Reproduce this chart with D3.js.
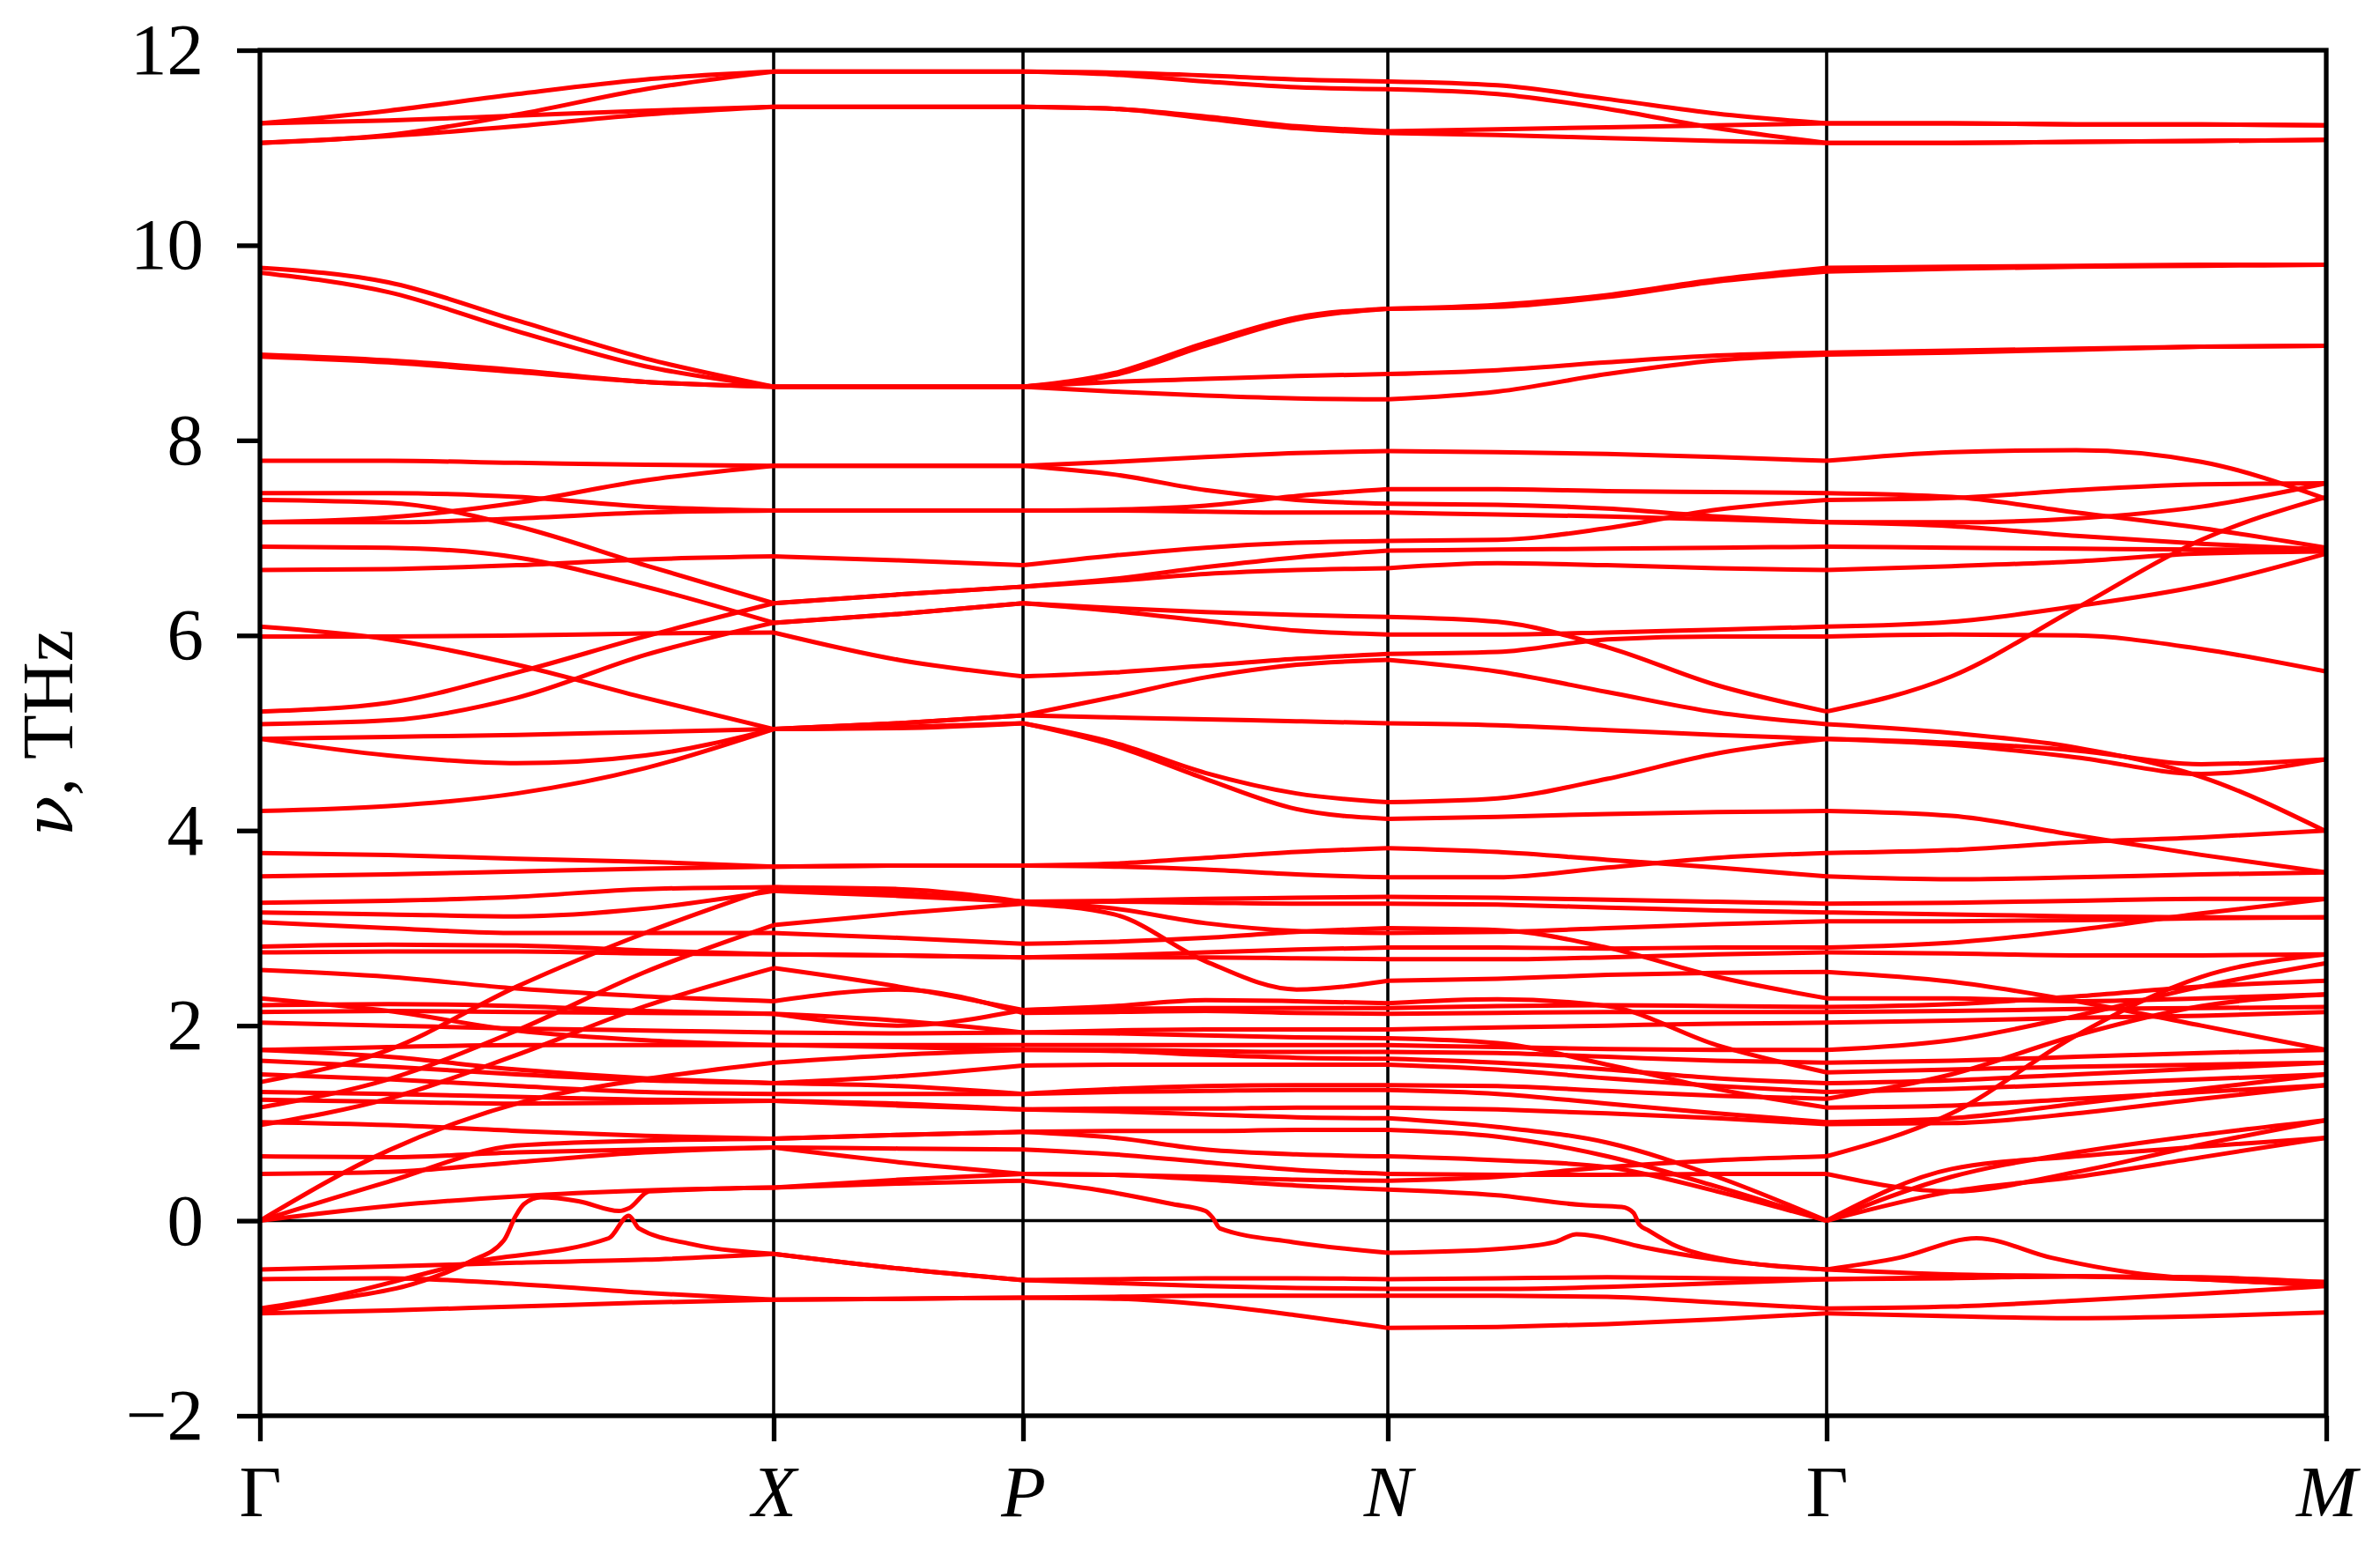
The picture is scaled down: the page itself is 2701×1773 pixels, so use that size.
<!DOCTYPE html>
<html>
<head>
<meta charset="utf-8">
<script src="https://d3js.org/d3.v7.min.js"></script>
<style>
  body { margin: 0; background: #fff; }
  text { font-family: "Liberation Serif", "DejaVu Serif", serif; fill: #000; }
  .band { fill: none; stroke: #ff0000; stroke-width: 5; stroke-linejoin: round; }
  .sym { stroke: #000; stroke-width: 3.6; }
  .axis line { stroke: #000; stroke-width: 5.3; }
  .frame { fill: none; stroke: #000; stroke-width: 5.3; }
</style>
</head>
<body>
<script>
// high-symmetry path: positions along the path and labels
const kTicks = [0, 0.583, 0.866, 1.280, 1.778, 2.345];
const kLabels = ["Γ", "X", "P", "N", "Γ", "M"];
const yTicks = [-2, 0, 2, 4, 6, 8, 10, 12];

// sample points along the path, as segment index + fraction
// Γ-X: 5 | X-P: 2 | P-N: 4 | N-Γ: 4 | Γ-M: 4
const gridS = [0, .25, .5, .75, 1, 1.5, 2, 2.25, 2.5, 2.75, 3, 3.25, 3.5, 3.75, 4, 4.25, 4.5, 4.75, 5];

// 11-12 THz
const topBands = [
  [11.25, 11.38, 11.55, 11.7, 11.78, 11.78, 11.78, 11.77, 11.74, 11.7, 11.68, 11.64, 11.5, 11.35, 11.25, 11.25, 11.24, 11.24, 11.23],
  [11.05, 11.13, 11.34, 11.6, 11.78, 11.78, 11.78, 11.75, 11.68, 11.62, 11.6, 11.55, 11.4, 11.2, 11.05, 11.05, 11.06, 11.07, 11.08],
  [11.25, 11.28, 11.33, 11.38, 11.42, 11.42, 11.42, 11.4, 11.32, 11.22, 11.17, 11.19, 11.21, 11.23, 11.25, 11.25, 11.24, 11.24, 11.23],
  [11.05, 11.12, 11.22, 11.34, 11.42, 11.42, 11.42, 11.4, 11.3, 11.2, 11.15, 11.13, 11.1, 11.07, 11.05, 11.05, 11.06, 11.07, 11.08]
];

// 8.4-9.8 THz
const midBands = [
  [9.77, 9.62, 9.23, 8.84, 8.55, 8.55, 8.55, 8.69, 9.0, 9.26, 9.35, 9.39, 9.49, 9.65, 9.77, 9.78, 9.79, 9.8, 9.8],
  [9.72, 9.52, 9.12, 8.76, 8.55, 8.55, 8.55, 8.67, 8.97, 9.24, 9.35, 9.37, 9.47, 9.63, 9.73, 9.76, 9.78, 9.79, 9.8],
  [8.88, 8.82, 8.72, 8.6, 8.55, 8.55, 8.55, 8.6, 8.63, 8.66, 8.68, 8.72, 8.8, 8.87, 8.9, 8.92, 8.94, 8.96, 8.97],
  [8.86, 8.8, 8.7, 8.6, 8.55, 8.55, 8.55, 8.5, 8.46, 8.43, 8.42, 8.5, 8.68, 8.82, 8.88, 8.9, 8.93, 8.96, 8.97]
];

// 4-8 THz
const optBands = [
  [7.79, 7.79, 7.77, 7.75, 7.74, 7.74, 7.74, 7.78, 7.83, 7.87, 7.89, 7.88, 7.86, 7.83, 7.79, 7.88, 7.9, 7.78, 7.4],
  [7.16, 7.21, 7.36, 7.59, 7.74, 7.74, 7.74, 7.65, 7.49, 7.39, 7.35, 7.34, 7.3, 7.22, 7.16, 7.16, 7.2, 7.32, 7.56],
  [7.46, 7.46, 7.42, 7.32, 7.28, 7.28, 7.28, 7.29, 7.33, 7.43, 7.5, 7.5, 7.48, 7.47, 7.46, 7.42, 7.26, 7.1, 6.9],
  [7.16, 7.16, 7.2, 7.26, 7.28, 7.28, 7.28, 7.28, 7.27, 7.26, 7.26, 7.24, 7.22, 7.19, 7.16, 7.12, 7.02, 6.94, 6.88],
  [7.39, 7.36, 7.12, 6.72, 6.33, 6.42, 6.5, 6.58, 6.7, 6.8, 6.87, 6.88, 6.89, 6.9, 6.91, 6.9, 6.89, 6.88, 6.88],
  [6.91, 6.9, 6.8, 6.5, 6.13, 6.22, 6.33, 6.28, 6.24, 6.21, 6.19, 6.14, 5.88, 5.49, 5.22, 5.58, 6.28, 6.98, 7.42],
  [6.67, 6.68, 6.72, 6.78, 6.81, 6.77, 6.72, 6.82, 6.9, 6.95, 6.97, 6.98, 7.1, 7.29, 7.39, 7.41, 7.49, 7.55, 7.56],
  [5.22, 5.31, 5.62, 5.99, 6.33, 6.42, 6.5, 6.56, 6.63, 6.67, 6.69, 6.74, 6.72, 6.69, 6.67, 6.71, 6.76, 6.84, 6.86],
  [5.09, 5.13, 5.36, 5.8, 6.13, 6.22, 6.33, 6.25, 6.15, 6.05, 6.01, 6.01, 6.03, 6.06, 6.09, 6.14, 6.3, 6.51, 6.84],
  [5.99, 5.99, 6.0, 6.02, 6.03, 5.75, 5.58, 5.62, 5.69, 5.76, 5.81, 5.83, 5.96, 5.99, 5.99, 6.01, 6.0, 5.86, 5.63],
  [6.09, 5.96, 5.7, 5.36, 5.04, 5.1, 5.18, 5.37, 5.57, 5.7, 5.75, 5.63, 5.42, 5.21, 5.09, 5.0, 4.85, 4.55, 3.99],
  [4.94, 4.77, 4.69, 4.77, 5.04, 5.1, 5.18, 5.16, 5.14, 5.12, 5.1, 5.08, 5.03, 4.98, 4.94, 4.88, 4.75, 4.58, 4.73],
  [4.94, 4.96, 4.98, 5.01, 5.04, 5.05, 5.1, 4.9, 4.59, 4.38, 4.29, 4.33, 4.53, 4.79, 4.94, 4.9, 4.82, 4.68, 4.73],
  [4.2, 4.25, 4.38, 4.64, 5.04, 5.06, 5.1, 4.87, 4.53, 4.22, 4.12, 4.14, 4.17, 4.19, 4.2, 4.15, 3.95, 3.75, 3.57]
];

// 0-4 THz
const lowBands = [
  [0, .4, .77, .82, .84, .88, .91, .92, .92, .93, .93, .86, .66, .35, 0, .3, .45, .65, .85],
  [0, .72, 1.2, 1.45, 1.62, 1.7, 1.75, 1.75, 1.74, 1.73, 1.73, 1.72, 1.68, 1.64, 1.62, 1.64, 1.68, 1.72, 1.75],
  [.48, .5, .6, .7, .75, .74, .73, .68, .6, .52, .48, .47, .47, .48, .48, .3, .5, .78, 1.03],
  [.66, .65, .7, .73, .75, .6, .48, .47, .45, .42, .41, .45, .55, .62, .66, 1.1, 1.9, 2.5, 2.73],
  [.98, 1.25, 1.7, 2.2, 2.59, 2.4, 2.16, 2.2, 2.26, 2.25, 2.23, 2.27, 2.2, 1.8, 1.52, 1.55, 1.58, 1.6, 1.62],
  [1.01, .98, .92, .87, .84, .88, .91, .85, .73, .68, .66, .62, .55, .3, 0, .45, .7, .88, 1.03],
  [1.16, 1.45, 1.95, 2.55, 3.03, 3.15, 3.25, 3.14, 2.66, 2.37, 2.46, 2.48, 2.52, 2.54, 2.55, 2.45, 2.25, 2.0, 1.75],
  [1.24, 1.22, 1.2, 1.21, 1.23, 1.18, 1.14, 1.15, 1.15, 1.16, 1.16, 1.14, 1.1, 1.05, .99, 1.0, 1.1, 1.25, 1.39],
  [1.32, 1.3, 1.27, 1.24, 1.23, 1.2, 1.14, 1.12, 1.09, 1.06, 1.05, .96, .8, .45, 0, .53, .66, .76, .85],
  [1.42, 1.75, 2.4, 2.95, 3.42, 3.4, 3.27, 3.2, 3.05, 2.97, 2.95, 2.96, 3.0, 3.04, 3.07, 3.07, 3.08, 3.1, 3.11],
  [1.5, 1.45, 1.38, 1.32, 1.3, 1.3, 1.3, 1.35, 1.38, 1.39, 1.39, 1.38, 1.33, 1.28, 1.25, 1.5, 1.9, 2.2, 2.32],
  [1.64, 1.58, 1.5, 1.44, 1.41, 1.48, 1.59, 1.6, 1.6, 1.6, 1.6, 1.55, 1.46, 1.38, 1.32, 1.35, 1.4, 1.45, 1.5],
  [1.75, 1.68, 1.55, 1.46, 1.41, 1.38, 1.3, 1.32, 1.33, 1.34, 1.34, 1.3, 1.2, 1.1, 1.01, 1.05, 1.2, 1.35, 1.5],
  [1.75, 1.78, 1.8, 1.8, 1.8, 1.8, 1.8, 1.8, 1.8, 1.8, 1.8, 1.78, 1.76, 1.75, 1.75, 1.85, 2.1, 2.4, 2.64],
  [2.03, 2.0, 1.97, 1.95, 1.93, 1.92, 1.93, 1.95, 1.96, 1.96, 1.96, 1.98, 2.0, 2.02, 2.03, 2.05, 2.08, 2.1, 2.14],
  [2.14, 2.15, 2.14, 2.13, 2.12, 2.0, 2.16, 2.17, 2.18, 2.18, 2.18, 2.2, 2.21, 2.2, 2.19, 2.22, 2.3, 2.4, 2.46],
  [2.21, 2.22, 2.2, 2.15, 2.12, 2.05, 1.93, 1.92, 1.9, 1.88, 1.87, 1.82, 1.6, 1.35, 1.16, 1.18, 1.25, 1.32, 1.39],
  [2.28, 2.15, 1.95, 1.85, 1.8, 1.78, 1.75, 1.74, 1.7, 1.67, 1.66, 1.62, 1.55, 1.46, 1.41, 1.44, 1.5, 1.56, 1.62],
  [2.57, 2.5, 2.38, 2.3, 2.25, 2.37, 2.13, 2.14, 2.15, 2.13, 2.12, 2.13, 2.14, 2.14, 2.14, 2.15, 2.17, 2.18, 2.19],
  [2.75, 2.76, 2.76, 2.74, 2.73, 2.72, 2.7, 2.72, 2.75, 2.78, 2.8, 2.8, 2.79, 2.8, 2.8, 2.85, 2.98, 3.15, 3.3],
  [2.81, 2.83, 2.82, 2.77, 2.73, 2.72, 2.7, 2.7, 2.7, 2.69, 2.68, 2.68, 2.7, 2.73, 2.75, 2.74, 2.72, 2.72, 2.73],
  [3.06, 3.0, 2.95, 2.95, 2.95, 2.9, 2.84, 2.86, 2.9, 2.96, 3.0, 2.98, 2.8, 2.5, 2.28, 2.28, 2.25, 2.28, 2.32],
  [3.16, 3.14, 3.12, 3.2, 3.38, 3.33, 3.27, 3.28, 3.3, 3.31, 3.32, 3.31, 3.29, 3.27, 3.25, 3.26, 3.28, 3.3, 3.3],
  [3.26, 3.28, 3.32, 3.4, 3.42, 3.36, 3.27, 3.27, 3.26, 3.25, 3.25, 3.24, 3.21, 3.18, 3.16, 3.14, 3.12, 3.11, 3.11],
  [3.53, 3.55, 3.58, 3.61, 3.63, 3.64, 3.64, 3.66, 3.72, 3.78, 3.82, 3.78, 3.7, 3.62, 3.53, 3.5, 3.52, 3.55, 3.57],
  [3.77, 3.75, 3.71, 3.68, 3.63, 3.64, 3.64, 3.63, 3.6, 3.55, 3.52, 3.52, 3.62, 3.72, 3.77, 3.8, 3.88, 3.93, 4.0]
];

// imaginary modes, shown as negative
const negBands = [
  [-0.5, -0.47, -0.43, -0.4, -0.34, -0.49, -0.61, -0.6, -0.59, -0.59, -0.6, -0.59, -0.58, -0.59, -0.6, -0.59, -0.57, -0.58, -0.63],
  [-0.95, -0.92, -0.88, -0.84, -0.81, -0.8, -0.79, -0.78, -0.77, -0.77, -0.77, -0.77, -0.78, -0.84, -0.9, -0.88, -0.82, -0.75, -0.67],
  [-0.6, -0.59, -0.65, -0.74, -0.81, -0.8, -0.79, -0.8, -0.86, -0.97, -1.1, -1.09, -1.06, -1.01, -0.95, -0.98, -1.0, -0.98, -0.94]
];

// bands with kinks, given as [s, nu] pairs
const kinkBands = [
  [[0, 0], [.25, .15], [.5, .25], [.75, .31], [1, .34], [1.5, .38], [2, .41], [2.18, .33], [2.41, .17], [2.5, .1], [2.52, .03], [2.54, -.08], [2.74, -.22], [3, -.33],
   [3.25, -.29], [3.38, -.22], [3.43, -.14], [3.46, -.15], [3.58, -.27], [3.75, -.4], [4, -.5], [4.145, -.38], [4.3, -.18], [4.45, -.38], [4.655, -.56], [5, -.65]],
  [[0, -.93], [.152, -.8], [.297, -.65], [.409, -.42], [.475, -.2], [.498, .05], [.514, .17], [.547, .24], [.62, .2], [.699, .1], [.719, .13], [.758, .3], [1, .34],
   [1.5, .42], [2, .48], [2.25, .47], [2.5, .42], [2.75, .36], [3, .32], [3.25, .26], [3.445, .16], [3.533, .14], [3.56, .08], [3.573, -.04], [3.594, -.1], [3.648, -.24], [3.75, -.38], [4, -.5],
   [4.25, -.55], [4.5, -.57], [4.75, -.6], [5, -.63]],
  [[0, -.9], [.138, -.78], [.409, -.43], [.679, -.18], [.718, .05], [.738, -.08], [.84, -.24], [1, -.34], [1.5, -.49], [2, -.61],
   [2.25, -.64], [2.5, -.67], [2.75, -.69], [3, -.7], [3.25, -.7], [3.5, -.68], [3.75, -.64], [4, -.6], [4.25, -.58], [4.5, -.57], [4.75, -.6], [5, -.67]]
];

var margin = {top: 57, right: 61, bottom: 166, left: 295}
  , width = 2701 - margin.left - margin.right
  , height = 1773 - margin.top - margin.bottom;

var svg = d3.select("body").append("svg")
  .attr("width", 2701)
  .attr("height", 1773)
  .style("background", "#fff")
  .append("g")
  .attr("transform", "translate(" + margin.left + "," + margin.top + ")");

const sToK = d3.scaleLinear().domain([0, 1, 2, 3, 4, 5]).range(kTicks);
const x = d3.scaleLinear().domain([0, kTicks[5]]).range([0, width]);
const y = d3.scaleLinear().domain([-2, 12]).range([height, 0]);

// vertical lines at interior high-symmetry points, and the zero line
svg.selectAll(".sym-v")
  .data(kTicks.slice(1, 5))
  .enter().append("line")
  .attr("class", "sym")
  .attr("x1", d => x(d)).attr("x2", d => x(d))
  .attr("y1", 0).attr("y2", height);
svg.append("line")
  .attr("class", "sym")
  .attr("x1", 0).attr("x2", width)
  .attr("y1", y(0)).attr("y2", y(0));

const toPairs = row => row.map((v, i) => [gridS[i], v]);
const bands = topBands.concat(midBands, optBands, lowBands, negBands).map(toPairs).concat(kinkBands);

const line = d3.line()
  .x(p => x(sToK(p[0])))
  .y(p => y(p[1]))
  .curve(d3.curveMonotoneX);

// draw each band segment by segment, so corners at symmetry points stay sharp
const pieces = [];
bands.forEach(b => {
  for (let seg = 0; seg < 5; seg++) {
    pieces.push(b.filter(p => p[0] >= seg - 1e-9 && p[0] <= seg + 1 + 1e-9));
  }
});
svg.append("g").selectAll("path")
  .data(pieces)
  .enter().append("path")
  .attr("class", "band")
  .attr("d", line);

// axes
const yAxis = svg.append("g")
  .attr("class", "axis")
  .call(d3.axisLeft(y).tickValues(yTicks).tickSize(26).tickPadding(38).tickFormat(d3.format("d")));
yAxis.select(".domain").remove();
yAxis.selectAll("text").style("font-size", "83px");

const xAxis = svg.append("g")
  .attr("class", "axis")
  .attr("transform", "translate(0," + height + ")")
  .call(d3.axisBottom(x).tickValues(kTicks).tickSize(29).tickPadding(26).tickFormat((d, i) => kLabels[i]));
xAxis.select(".domain").remove();
xAxis.selectAll("text")
  .style("font-size", "83px")
  .style("font-style", (d, i) => kLabels[i] === "Γ" ? "normal" : "italic");

svg.append("rect")
  .attr("class", "frame")
  .attr("width", width)
  .attr("height", height);

// y label
const yl = svg.append("text")
  .attr("transform", "translate(" + (82 - margin.left) + "," + (height / 2) + ") rotate(-90)")
  .attr("text-anchor", "middle")
  .style("font-size", "83px");
yl.append("tspan").style("font-style", "italic").style("font-family", "'DejaVu Serif', serif").style("font-size", "76px").text("ν");
yl.append("tspan").text(", THz");
</script>
</body>
</html>
